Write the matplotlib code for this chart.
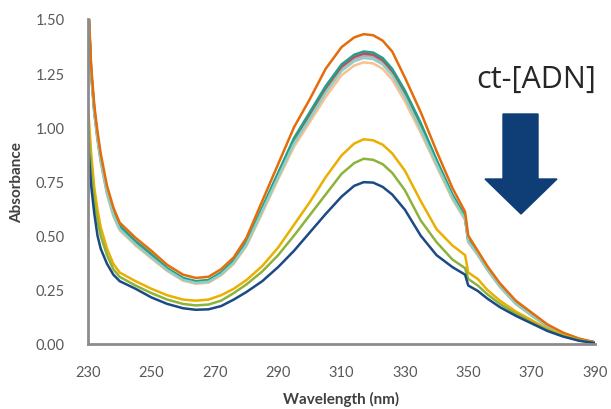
import matplotlib
matplotlib.use("Agg")
import matplotlib.pyplot as plt
from matplotlib.patches import Polygon

wl = [230, 231, 232, 233, 234, 236, 238, 240, 245, 250, 255, 260, 264, 268, 272, 276,
      280, 285, 290, 295, 300, 305, 310, 314, 317, 320, 323, 326, 330, 335, 340, 345,
      349, 350, 353, 356, 360, 365, 370, 375, 380, 385, 390]

orange = [1.60, 1.28, 1.10, 0.98, 0.88, 0.73, 0.63, 0.56, 0.49, 0.43, 0.365, 0.32, 0.305, 0.31, 0.345, 0.40,
          0.49, 0.66, 0.83, 1.00, 1.13, 1.27, 1.37, 1.415, 1.43, 1.425, 1.40, 1.35, 1.23, 1.07, 0.89, 0.72,
          0.61, 0.50, 0.43, 0.36, 0.28, 0.20, 0.145, 0.09, 0.052, 0.025, 0.008]
teal = [1.60, 1.26, 1.08, 0.96, 0.86, 0.71, 0.61, 0.545, 0.475, 0.415, 0.35, 0.305, 0.29, 0.295, 0.33, 0.385,
        0.47, 0.63, 0.79, 0.95, 1.07, 1.19, 1.29, 1.335, 1.35, 1.345, 1.32, 1.27, 1.17, 1.02, 0.85, 0.69,
        0.59, 0.48, 0.42, 0.35, 0.27, 0.19, 0.135, 0.085, 0.048, 0.022, 0.007]
red = [1.60, 1.255, 1.075, 0.955, 0.855, 0.705, 0.605, 0.54, 0.47, 0.41, 0.347, 0.302, 0.288, 0.293, 0.327, 0.382,
       0.466, 0.625, 0.785, 0.94, 1.06, 1.18, 1.28, 1.325, 1.34, 1.335, 1.31, 1.26, 1.16, 1.01, 0.845, 0.685,
       0.585, 0.478, 0.418, 0.348, 0.268, 0.188, 0.134, 0.084, 0.047, 0.021, 0.007]
lilac = [1.60, 1.25, 1.07, 0.95, 0.85, 0.70, 0.60, 0.535, 0.465, 0.405, 0.344, 0.299, 0.285, 0.29, 0.324, 0.378,
         0.462, 0.62, 0.778, 0.932, 1.05, 1.17, 1.27, 1.315, 1.33, 1.325, 1.30, 1.25, 1.15, 1.00, 0.838, 0.68,
         0.58, 0.475, 0.415, 0.346, 0.266, 0.187, 0.133, 0.083, 0.047, 0.021, 0.007]
mint = [1.60, 1.245, 1.065, 0.945, 0.845, 0.695, 0.595, 0.53, 0.46, 0.40, 0.341, 0.296, 0.282, 0.287, 0.321, 0.375,
        0.458, 0.615, 0.77, 0.925, 1.04, 1.16, 1.26, 1.305, 1.32, 1.315, 1.29, 1.24, 1.14, 0.99, 0.83, 0.675,
        0.577, 0.473, 0.413, 0.344, 0.265, 0.186, 0.132, 0.083, 0.046, 0.021, 0.007]
peach = [1.60, 1.24, 1.06, 0.94, 0.84, 0.69, 0.59, 0.525, 0.455, 0.395, 0.337, 0.292, 0.278, 0.283, 0.317, 0.37,
         0.452, 0.605, 0.76, 0.91, 1.025, 1.14, 1.24, 1.285, 1.30, 1.295, 1.27, 1.22, 1.12, 0.975, 0.82, 0.668,
         0.572, 0.47, 0.41, 0.342, 0.263, 0.185, 0.131, 0.082, 0.046, 0.021, 0.007]
gold = [1.10, 0.88, 0.72, 0.62, 0.54, 0.44, 0.37, 0.33, 0.29, 0.255, 0.225, 0.205, 0.20, 0.205, 0.225, 0.255,
        0.295, 0.36, 0.445, 0.55, 0.655, 0.77, 0.87, 0.925, 0.945, 0.94, 0.92, 0.88, 0.80, 0.66, 0.53, 0.455,
        0.41, 0.33, 0.30, 0.25, 0.20, 0.15, 0.11, 0.07, 0.04, 0.018, 0.005]
green = [1.02, 0.80, 0.66, 0.57, 0.50, 0.41, 0.345, 0.31, 0.27, 0.235, 0.205, 0.185, 0.178, 0.182, 0.20, 0.235,
         0.275, 0.335, 0.41, 0.50, 0.595, 0.69, 0.785, 0.835, 0.855, 0.85, 0.83, 0.79, 0.71, 0.57, 0.47, 0.39,
         0.35, 0.30, 0.27, 0.23, 0.185, 0.14, 0.10, 0.065, 0.037, 0.017, 0.005]
navy = [0.93, 0.73, 0.60, 0.50, 0.44, 0.37, 0.32, 0.29, 0.255, 0.215, 0.185, 0.165, 0.158, 0.16, 0.175, 0.205,
        0.24, 0.29, 0.355, 0.43, 0.515, 0.60, 0.68, 0.73, 0.747, 0.745, 0.725, 0.69, 0.62, 0.50, 0.41, 0.355,
        0.32, 0.27, 0.245, 0.21, 0.17, 0.13, 0.095, 0.06, 0.034, 0.015, 0.004]

series = [
    (peach, "#FAC090"),
    (lilac, "#B9A8CF"),
    (red, "#C0504D"),
    (teal, "#23A08C"),
    (mint, "#8ED0C6"),
    (orange, "#E46C0A"),
    (gold, "#EAAF00"),
    (green, "#8DB33A"),
    (navy, "#1B4A85"),
]

xticks = [230, 250, 270, 290, 310, 330, 350, 370, 390]
yticks = [0.00, 0.25, 0.50, 0.75, 1.00, 1.25, 1.50]

fig = plt.figure(figsize=(6.11, 4.10), dpi=100)
ax = fig.add_axes([88/611, 65/410, 507/611, 325/410])

for ys, c in series:
    ax.plot(wl, ys, color=c, lw=1.8, solid_joinstyle="round", solid_capstyle="round")

ax.set_xlim(230, 390)
ax.set_ylim(0, 1.5)
ax.set_xticks(xticks)
ax.set_yticks(yticks)
ax.set_yticklabels([f"{v:.2f}" for v in yticks])
ax.tick_params(length=0, labelsize=10.5, colors="#595959", labelfontfamily="Lato")
ax.tick_params(axis="y", pad=17)
ax.tick_params(axis="x", pad=15)
for s in ["top", "right"]:
    ax.spines[s].set_visible(False)
for s in ["left", "bottom"]:
    ax.spines[s].set_color("#8C8C8C")
    ax.spines[s].set_linewidth(2)

ax.set_xlabel("Wavelength (nm)", fontsize=11, fontweight="bold", color="#404040",
              family="Lato", labelpad=9)
ax.set_ylabel("Absorbance", fontsize=11, fontweight="bold", color="#404040",
              family="Lato", labelpad=8)

fig.text(536/611, 1 - 80/410, "ct-[ADN]", fontsize=22, color="#262626",
         family="Open Sans", ha="center", va="center")

arrow_pts = [(503, 115), (538, 115), (538, 180), (557, 180), (521, 215),
             (485, 180), (503, 180)]
arrow = Polygon([(x/611, 1 - y/410) for x, y in arrow_pts], closed=True,
                transform=fig.transFigure, facecolor="#0E3E75", edgecolor="#0E3E75")
fig.patches.append(arrow)

fig.savefig("out.png", dpi=100)
